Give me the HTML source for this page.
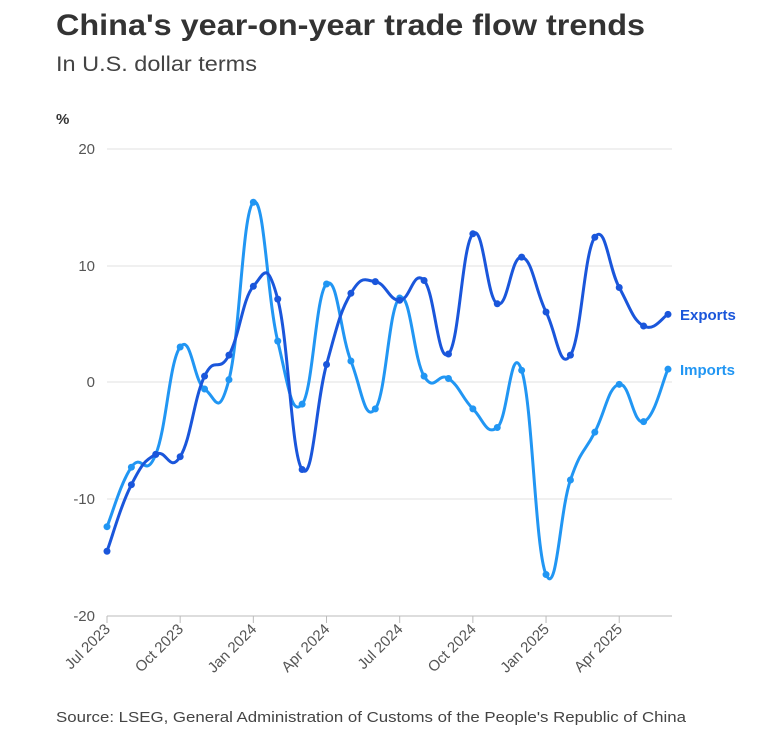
<!DOCTYPE html>
<html><head><meta charset="utf-8"><style>
body{margin:0;background:#fff;width:766px;height:736px;overflow:hidden;font-family:"Liberation Sans",sans-serif}
</style></head><body>
<svg id="s" width="766" height="736" xmlns="http://www.w3.org/2000/svg" font-family="Liberation Sans, sans-serif">
<text x="56" y="35" font-size="30" font-weight="bold" fill="#333" textLength="589" lengthAdjust="spacingAndGlyphs">China's year-on-year trade flow trends</text>
<text x="56" y="71" font-size="21" fill="#444" textLength="201" lengthAdjust="spacingAndGlyphs">In U.S. dollar terms</text>
<text x="56" y="124" font-size="15" font-weight="bold" fill="#333">%</text>
<g stroke="#e2e2e2" stroke-width="1">
<line x1="107" x2="672" y1="149" y2="149"/><line x1="107" x2="672" y1="266" y2="266"/>
<line x1="107" x2="672" y1="382" y2="382"/><line x1="107" x2="672" y1="499" y2="499"/>
<line x1="107" x2="672" y1="616" y2="616" stroke="#bbb"/>
</g>
<g font-size="15" fill="#555" text-anchor="end">
<text x="95" y="154">20</text><text x="95" y="271">10</text><text x="95" y="387">0</text><text x="95" y="504">-10</text><text x="95" y="621">-20</text>
</g>
<g id="xt" font-size="15" fill="#555"></g>
<g id="g"></g>
<text x="680" y="320" font-size="15" font-weight="bold" fill="#1a56db">Exports</text>
<text x="680" y="375" font-size="15" font-weight="bold" fill="#2196f3">Imports</text>
<text x="56" y="722" font-size="15" fill="#444" textLength="630" lengthAdjust="spacingAndGlyphs">Source: LSEG, General Administration of Customs of the People's Republic of China</text>
</svg>
<script>
const ex=[-14.5,-8.8,-6.2,-6.4,0.5,2.3,8.2,7.1,-7.5,1.5,7.6,8.6,7.0,8.7,2.4,12.7,6.7,10.7,6.0,2.3,12.4,8.1,4.8,5.8];
const im=[-12.4,-7.3,-6.2,3.0,-0.6,0.2,15.4,3.5,-1.9,8.4,1.8,-2.3,7.2,0.5,0.3,-2.3,-3.9,1.0,-16.5,-8.4,-4.3,-0.2,-3.4,1.1];
const X=i=>107+i*(668-107)/23, Y=v=>382-v*11.67;
const ns="http://www.w3.org/2000/svg",g=document.getElementById('g');
const K=4.5;
function draw(d,c){const p=d.map((v,i)=>[X(i),Y(v)]);let s=`M${p[0]}`;
for(let i=0;i<p.length-1;i++){const a=p[Math.max(0,i-1)],b=p[i],e=p[i+1],f=p[Math.min(p.length-1,i+2)];
s+=`C${b[0]+(e[0]-a[0])/K},${b[1]+(e[1]-a[1])/K} ${e[0]-(f[0]-b[0])/K},${e[1]-(f[1]-b[1])/K} ${e[0]},${e[1]}`;}
const path=document.createElementNS(ns,'path');path.setAttribute('d',s);path.setAttribute('fill','none');path.setAttribute('stroke',c);path.setAttribute('stroke-width','3');g.appendChild(path);
p.forEach(q=>{const ci=document.createElementNS(ns,'circle');ci.setAttribute('cx',q[0]);ci.setAttribute('cy',q[1]);ci.setAttribute('r','3.5');ci.setAttribute('fill',c);g.appendChild(ci);});}
draw(im,'#2196f3');draw(ex,'#1a56db');
const labs=['Jul 2023','Oct 2023','Jan 2024','Apr 2024','Jul 2024','Oct 2024','Jan 2025','Apr 2025'],xt=document.getElementById('xt');
labs.forEach((l,k)=>{const x=X(k*3);const ln=document.createElementNS(ns,'line');ln.setAttribute('x1',x);ln.setAttribute('x2',x);ln.setAttribute('y1',616);ln.setAttribute('y2',623);ln.setAttribute('stroke','#bbb');xt.appendChild(ln);
const t=document.createElementNS(ns,'text');t.textContent=l;t.setAttribute('text-anchor','end');t.setAttribute('transform',`translate(${x+4},630) rotate(-45)`);xt.appendChild(t);});
</script>
</body></html>
